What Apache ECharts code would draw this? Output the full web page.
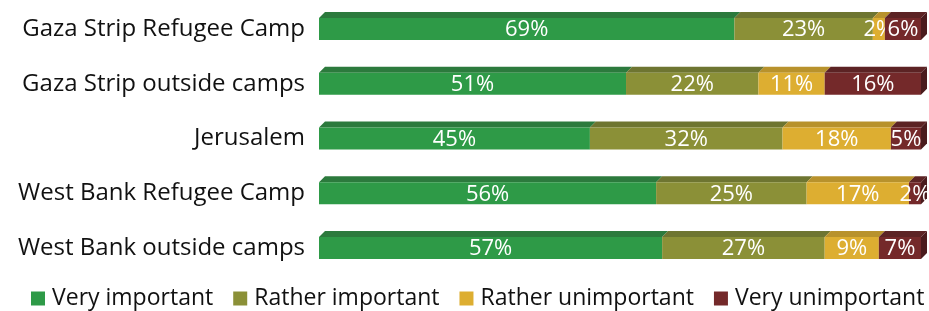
<!DOCTYPE html>
<html><head><meta charset="utf-8">
<script src="https://cdn.jsdelivr.net/npm/echarts@6/dist/echarts.min.js"></script>
<style>html,body{margin:0;padding:0;background:#fff}#c{width:929px;height:311px}</style>
</head><body><div id="c"></div>
<script>
const categories = ["Gaza Strip Refugee Camp","Gaza Strip outside camps","Jerusalem","West Bank Refugee Camp","West Bank outside camps"];
const seriesNames = ["Very important","Rather important","Rather unimportant","Very unimportant"];
const veryImportant = [69,51,45,56,57];
const ratherImportant = [23,22,32,25,27];
const ratherUnimportant = [2,11,18,17,9];
const veryUnimportant = [6,16,5,2,7];
const allValues = [veryImportant, ratherImportant, ratherUnimportant, veryUnimportant];

const frontColors = ["#2e9a47","#8b9037","#ddae31","#74292a"];
const topColors = ["#2c7a3d","#6e7531","#b8922c","#5c2324"];
const sideColor = "#4a1b1d";
const FONT = "Open Sans";
const H = 22, D = 6;

function makeSeries(si){
  const data = categories.map((c,ci)=>{
    let start = 0;
    for(let k=0;k<si;k++) start += allValues[k][ci];
    return [ci, start, start + allValues[si][ci], allValues[si][ci]];
  });
  return {
    type:'custom', name: seriesNames[si],
    itemStyle:{color: frontColors[si]},
    encode:{x:[1,2], y:0},
    data,
    renderItem:function(params, api){
      const ci = api.value(0), s = api.value(1), e = api.value(2), v = api.value(3);
      const p0 = api.coord([s, ci]), p1 = api.coord([e, ci]);
      const cy = p0[1], x0 = p0[0], x1 = p1[0];
      const children = [
        {type:'polygon', shape:{points:[[x0,cy-H/2],[x0+D,cy-H/2-D],[x1+D,cy-H/2-D],[x1,cy-H/2]]}, style:{fill: topColors[si]}},
        {type:'rect', shape:{x:x0, y:cy-H/2, width:x1-x0, height:H}, style:{fill: frontColors[si]}}
      ];
      if(si === allValues.length-1){
        children.push({type:'polygon', shape:{points:[[x1,cy-H/2],[x1+D,cy-H/2-D],[x1+D,cy+H/2-D],[x1,cy+H/2]]}, style:{fill: sideColor}});
      }
      children.push({type:'text', style:{text: v+'%', x:(x0+x1)/2, y:cy+1, align:'center', verticalAlign:'middle', fill:'#fff', font:'22px "'+FONT+'"'}});
      return {type:'group', children};
    }
  };
}

const chart = echarts.init(document.getElementById('c'), null, {renderer:'canvas'});
chart.setOption({
  animation:false,
  grid:{left:319, right:8, top:1.6, bottom:35.6, containLabel:false},
  xAxis:{type:'value', min:0, max:100, show:false},
  yAxis:{type:'category', data:categories, inverse:true,
    axisLine:{show:false}, axisTick:{show:false},
    axisLabel:{fontSize:24, color:'#111', margin:14, fontFamily:FONT}},
  legend:{left:31, top:287, width:898, padding:0, itemWidth:14, itemHeight:14, itemGap:20, icon:'rect',
    textStyle:{fontSize:23, color:'#111', fontFamily:FONT, padding:[0,0,0,2]},
    data:seriesNames},
  series:[0,1,2,3].map(makeSeries)
});
</script></body></html>
